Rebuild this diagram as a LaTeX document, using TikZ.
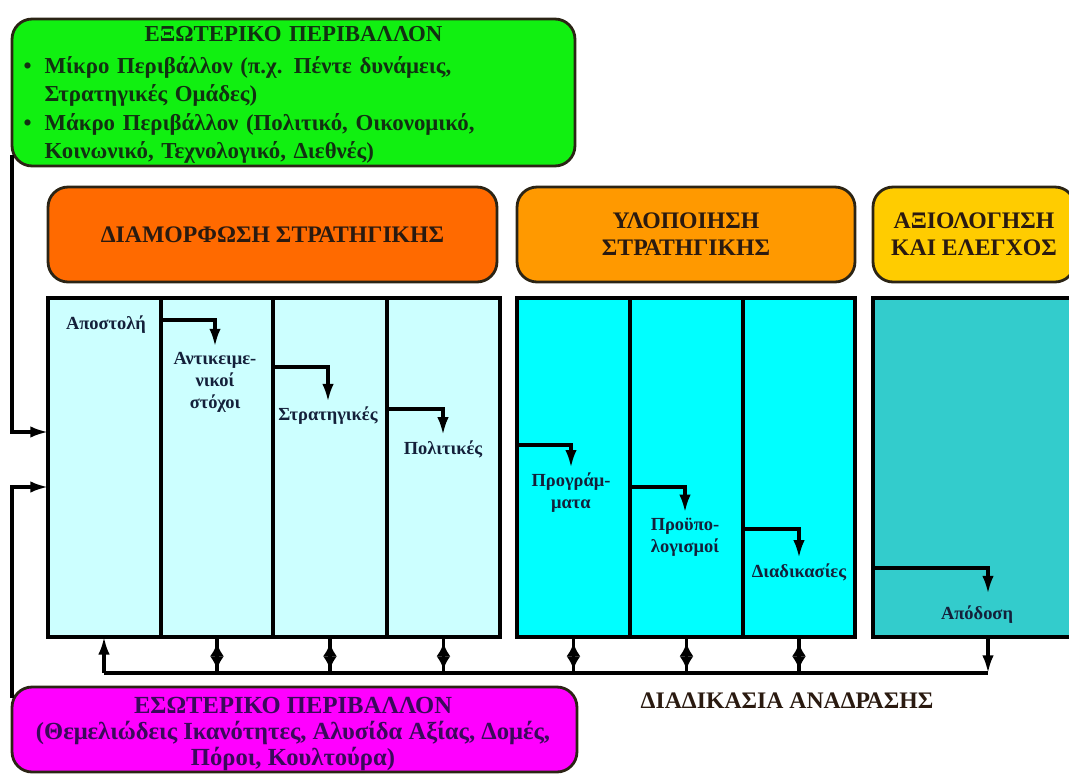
\documentclass[tikz,border=0pt]{standalone}
\usepackage{fontspec}
\setmainfont{Liberation Serif}
\usetikzlibrary{arrows.meta}

\definecolor{extgreen}{HTML}{11F011}
\definecolor{intmagenta}{HTML}{FF00FF}
\definecolor{formorange}{HTML}{FF6A00}
\definecolor{implorange}{HTML}{FF9900}
\definecolor{evalyellow}{HTML}{FFCC00}
\definecolor{paleblue}{HTML}{CCFFFF}
\definecolor{brightcyan}{HTML}{00FFFF}
\definecolor{darkteal}{HTML}{33CCCC}
\definecolor{boxline}{HTML}{2B2415}
\definecolor{exttext}{HTML}{123012}
\definecolor{inttext}{HTML}{3A0A5A}
\definecolor{headtext}{HTML}{2A1A10}
\definecolor{labeltext}{HTML}{14203A}

\tikzset{
  envbox/.style={draw=boxline, line width=1.6pt, rounded corners=0.4cm, outer sep=0pt, inner sep=0pt},
  envtext/.style={font=\bfseries\fontsize{13}{16.3}\selectfont, inner sep=0pt},
  headbox/.style={draw=boxline, line width=1.6pt, rounded corners=0.4cm, outer sep=0pt, align=center,
    minimum height=1.9cm, font=\bfseries\fontsize{13.5}{15.3}\selectfont, text=headtext},
  panel/.style={draw=black, line width=1.8pt, outer sep=0pt, inner sep=0pt, anchor=north west,
    minimum height=6.78cm},
  stagelabel/.style={font=\bfseries\fontsize{10.5}{12.5}\selectfont, text=labeltext, align=center, inner sep=3pt},
  link/.style={line width=1.8pt, draw=black},
}

\begin{document}
\begin{tikzpicture}[x=0.02cm, y=-0.02cm, >={Latex[length=10pt,width=6.5pt]}]
    \useasboundingbox (0,0) rectangle (1069,774);

    \node[envbox, fill=extgreen, minimum width=11.26cm, minimum height=2.94cm] (ext) at (293.5,92.5) {};
    \node[envtext, text=exttext, text width=10.8cm, align=left] (extlabel) at (293.5,95) {%
        {\centering ΕΞΩΤΕΡΙΚΟ ΠΕΡΙΒΑΛΛΟΝ\par}\vspace{1.8pt}
        \makebox[0.42cm][l]{•}Μίκρο Περιβάλλον (π.χ. Πέντε δυνάμεις,\\
        \hspace*{0.42cm}Στρατηγικές Ομάδες)\\
        \makebox[0.42cm][l]{•}Μάκρο Περιβάλλον (Πολιτικό, Οικονομικό,\\
        \hspace*{0.42cm}Κοινωνικό, Τεχνολογικό, Διεθνές)};
    \node[envbox, fill=intmagenta, minimum width=11.3cm, minimum height=1.7cm] (int) at (294.5,729.5) {};
    \node[envtext, text=inttext, align=center, font=\bfseries\fontsize{14}{14.6}\selectfont] (intlabel)
        at (293,734) {ΕΣΩΤΕΡΙΚΟ ΠΕΡΙΒΑΛΛΟΝ\\(Θεμελιώδεις Ικανότητες, Αλυσίδα Αξίας, Δομές,\\Πόροι, Κουλτούρα)};

    \node[headbox, fill=formorange, minimum width=8.98cm] (form) at (272.5,234.5) {ΔΙΑΜΟΡΦΩΣΗ ΣΤΡΑΤΗΓΙΚΗΣ};
    \node[headbox, fill=implorange, minimum width=6.76cm] (impl) at (686,234.5) {ΥΛΟΠΟΙΗΣΗ\\ΣΤΡΑΤΗΓΙΚΗΣ};
    \node[headbox, fill=evalyellow, minimum width=4.04cm] (eval) at (974,234.5) {ΑΞΙΟΛΟΓΗΣΗ\\ΚΑΙ ΕΛΕΓΧΟΣ};

    \node[panel, fill=paleblue, minimum width=2.26cm] (col1) at (48,298) {};
    \node[panel, fill=paleblue, minimum width=2.24cm] (col2) at (161,298) {};
    \node[panel, fill=paleblue, minimum width=2.28cm] (col3) at (273,298) {};
    \node[panel, fill=paleblue, minimum width=2.26cm] (col4) at (387,298) {};
    \node[panel, fill=brightcyan, minimum width=2.26cm] (col5) at (517,298) {};
    \node[panel, fill=brightcyan, minimum width=2.26cm] (col6) at (630,298) {};
    \node[panel, fill=brightcyan, minimum width=2.24cm] (col7) at (743,298) {};
    \node[panel, fill=darkteal, minimum width=4.04cm] (col8) at (873,298) {};

    \node[stagelabel] (mission) at (106,325) {Αποστολή};
    \node[stagelabel] (objectives) at (215,382) {Αντικειμε-\\νικοί\\στόχοι};
    \node[stagelabel] (strategies) at (328,416) {Στρατηγικές};
    \node[stagelabel] (policies) at (443,449) {Πολιτικές};
    \node[stagelabel] (programmes) at (571,493) {Προγράμ-\\ματα};
    \node[stagelabel] (budgets) at (685,537) {Προϋπο-\\λογισμοί};
    \node[stagelabel] (procedures) at (799,572) {Διαδικασίες};
    \node[stagelabel] (performance) at (977,615) {Απόδοση};

    \coordinate (fbL) at (104,673);
    \coordinate (fbR) at (988,673);

    \draw[link,->] (col2.west |- 0,320) -| (objectives.north);
    \draw[link,->] (col3.west |- 0,367) -| (strategies.north);
    \draw[link,->] (col4.west |- 0,409) -| (policies.north);
    \draw[link,->] (col5.west |- 0,445) -| (programmes.north);
    \draw[link,->] (col6.west |- 0,487) -| (budgets.north);
    \draw[link,->] (col7.west |- 0,529) -| (procedures.north);
    \draw[link,->] (col8.west |- 0,568) -| ([yshift=4pt]fbR |- performance.north);

    \draw[link,->] ([yshift=6pt]ext.south west) |- (col1.west |- 0,432);
    \draw[link,->] ([yshift=-6pt]int.north west) |- (col1.west |- 0,487);

    \draw[link] (fbL) -- (fbR);
    \draw[link,->] (fbL) -- (col1.south -| fbL);
    \foreach \c in {col2,col3,col4,col5,col6,col7}{
        \draw[link] (\c.south) -- (\c.south |- fbL);
        \draw[link,<->,>={Latex[length=7.5pt,width=8pt]},shorten <=3.5pt,shorten >=2pt]
            (\c.south) -- (\c.south |- fbL);
    }
    \draw[link,->] (col8.south -| fbR) -- (fbR);

    \node[font=\bfseries\fontsize{13.5}{15}\selectfont, text=headtext] (feedback) at (787,701) {ΔΙΑΔΙΚΑΣΙΑ ΑΝΑΔΡΑΣΗΣ};
\end{tikzpicture}
\end{document}
